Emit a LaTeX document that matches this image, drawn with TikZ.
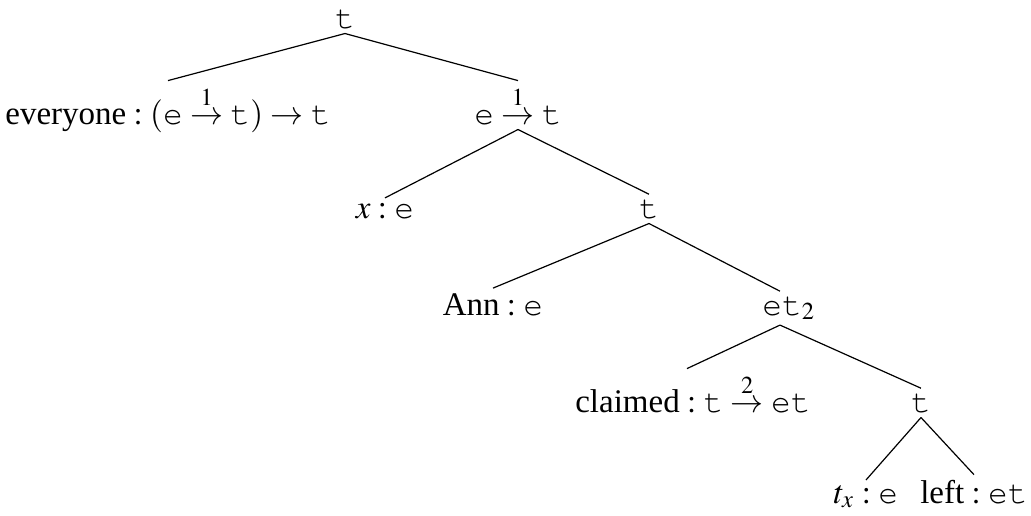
\documentclass[tikz,border=0pt]{standalone}
\usepackage{amsmath}
\usepackage{mathptmx}
\usepackage[no-math]{fontspec}
\setmainfont{Liberation Serif}
\usepackage{tikz}

% Courier for the types
\newcommand{\ty}[1]{\text{\usefont{OT1}{pcr}{m}{n}#1}}

\begin{document}
\begin{tikzpicture}[
  x=0.3333pt, y=-0.3333pt,
  every node/.style={font=\fontsize{11}{13}\selectfont},
  lbl/.style={anchor=base, inner sep=1.5pt},
  edge/.style={black, line width=0.4pt}
]
\useasboundingbox (0,0) rectangle (1031,515);

% Nodes (placed by baseline)
\node[lbl] (root)    at (345,28)  {$\ty{t}$};
\node[lbl] (every)   at (168,124) {$\text{everyone} : (\ty{e} \stackrel{1}{\rightarrow} \ty{t}) \rightarrow \ty{t}$};
\node[lbl] (et1)     at (518,124) {$\ty{e} \stackrel{1}{\rightarrow} \ty{t}$};
\node[lbl] (xe)      at (385,218) {$x : \ty{e}$};
\node[lbl] (tA)      at (649,218) {$\ty{t}$};
\node[lbl] (ann)     at (493,315) {$\text{Ann} : \ty{e}$};
\node[lbl] (etsub)   at (789,315) {$\ty{et}_2$};
\node[lbl] (claimed) at (693,412) {$\text{claimed} : \ty{t} \stackrel{2}{\rightarrow} \ty{et}$};
\node[lbl] (tB)      at (921,412) {$\ty{t}$};
\node[lbl] (tx)      at (866,503) {$t_x : \ty{e}$};
\node[lbl] (left)    at (974,503) {$\text{left} : \ty{et}$};

% Edges
\draw[edge] (root.south) -- (every.north);
\draw[edge] (root.south) -- (et1.north);
\draw[edge] (et1.south) -- (xe.north);
\draw[edge] (et1.south) -- (tA.north);
\draw[edge] (tA.south) -- (ann.north);
\draw[edge] (tA.south) -- ([xshift=-3pt]etsub.north);
\draw[edge] ([xshift=-3pt]etsub.south) -- ([xshift=-2pt]claimed.north);
\draw[edge] ([xshift=-3pt]etsub.south) -- (tB.north);
\draw[edge] (tB.south) -- (tx.north);
\draw[edge] (tB.south) -- (left.north);

\end{tikzpicture}
\end{document}
